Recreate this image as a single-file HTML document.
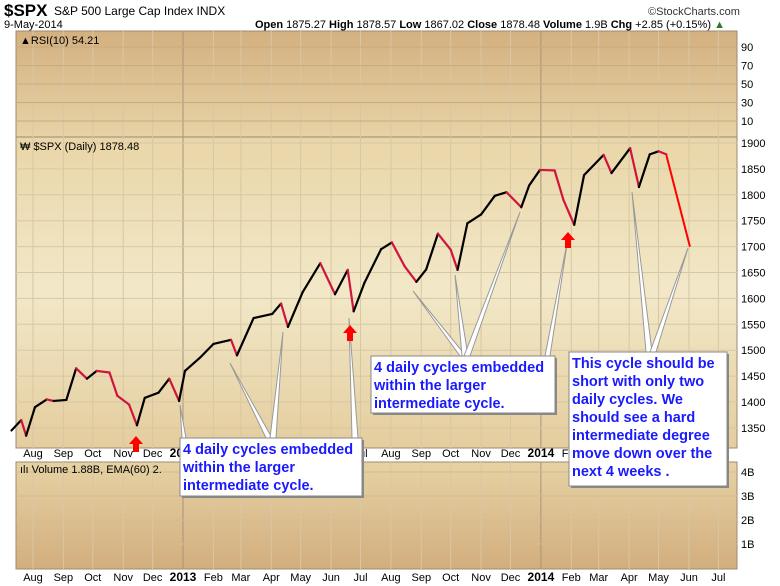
<!DOCTYPE html>
<html><head><meta charset="utf-8"><style>
body{margin:0;background:#fff;width:780px;height:586px;overflow:hidden;font-family:"Liberation Sans",sans-serif}
svg{display:block}
.t{font-family:"Liberation Sans",sans-serif}
.cb{fill:#1a1aff;font-weight:bold;font-size:14.5px}
</style></head><body>
<svg id="c" width="780" height="586">
<defs>
<linearGradient id="gr" x1="0" y1="0" x2="0" y2="1"><stop offset="0" stop-color="#d3b07f"/><stop offset="1" stop-color="#e7d3a6"/></linearGradient>
<linearGradient id="gp" x1="0" y1="0" x2="0" y2="1"><stop offset="0" stop-color="#e9d6a8"/><stop offset="0.5" stop-color="#f2e8c8"/><stop offset="1" stop-color="#e4cd9e"/></linearGradient>
<linearGradient id="gv" x1="0" y1="0" x2="0" y2="1"><stop offset="0" stop-color="#e6d2a4"/><stop offset="1" stop-color="#d2ae7e"/></linearGradient>
</defs>
<text class="t" x="4" y="16" font-size="17" font-weight="bold">$SPX</text>
<text class="t" x="54" y="15" font-size="12">S&amp;P 500 Large Cap Index  INDX</text>
<text class="t" x="648" y="15" font-size="11" fill="#333">©StockCharts.com</text>
<text class="t" x="4" y="28" font-size="11">9-May-2014</text>
<text class="t" x="255" y="28" font-size="11"><tspan font-weight="bold">Open</tspan> 1875.27 <tspan font-weight="bold">High</tspan> 1878.57 <tspan font-weight="bold">Low</tspan> 1867.02 <tspan font-weight="bold">Close</tspan> 1878.48 <tspan font-weight="bold">Volume</tspan> 1.9B <tspan font-weight="bold">Chg</tspan> +2.85 (+0.15%) <tspan fill="#2a7a2a">▲</tspan></text>
<rect x="16" y="31" width="721" height="106" fill="url(#gr)" stroke="#a08870"/>
<rect x="16" y="137" width="721" height="311" fill="url(#gp)" stroke="#a08870"/>
<rect x="16" y="462" width="721" height="107" fill="url(#gv)" stroke="#a08870"/>
<g id="grid"></g>
<text class="t" x="20" y="44" font-size="11">▲RSI(10) 54.21</text>
<text class="t" x="20" y="150" font-size="11">₩ $SPX (Daily) 1878.48</text>
<text class="t" x="20" y="473" font-size="11">ılı Volume 1.88B, EMA(60) 2.</text>
<g id="ticks"></g>
<g id="series"></g>
<g id="notes"></g>
</svg>
<script>
const months=["Aug","Sep","Oct","Nov","Dec","2013","Feb","Mar","Apr","May","Jun","Jul","Aug","Sep","Oct","Nov","Dec","2014","Feb","Mar","Apr","May","Jun","Jul"];
const monthDates=["2012-08-01","2012-09-01","2012-10-01","2012-11-01","2012-12-01","2013-01-01","2013-02-01","2013-03-01","2013-04-01","2013-05-01","2013-06-01","2013-07-01","2013-08-01","2013-09-01","2013-10-01","2013-11-01","2013-12-01","2014-01-01","2014-02-01","2014-03-01","2014-04-01","2014-05-01","2014-06-01","2014-07-01"];
const priceTicks=[1900,1850,1800,1750,1700,1650,1600,1550,1500,1450,1400,1350];
const rsiTicks=[90,70,50,30,10];
const volTicks=[4,3,2,1];
const dates=["2012-07-10","2012-07-20","2012-07-25","2012-08-03","2012-08-15","2012-08-22","2012-09-04","2012-09-14","2012-09-25","2012-10-05","2012-10-18","2012-10-26","2012-11-07","2012-11-15","2012-11-23","2012-12-07","2012-12-18","2012-12-28","2013-01-03","2013-01-18","2013-02-01","2013-02-19","2013-02-25","2013-03-14","2013-04-02","2013-04-11","2013-04-18","2013-05-03","2013-05-21","2013-06-05","2013-06-18","2013-06-24","2013-07-05","2013-07-22","2013-08-02","2013-08-15","2013-08-27","2013-09-06","2013-09-18","2013-10-01","2013-10-08","2013-10-18","2013-11-01","2013-11-15","2013-11-27","2013-12-12","2013-12-20","2013-12-31","2014-01-15","2014-01-24","2014-02-04","2014-02-14","2014-03-06","2014-03-14","2014-04-02","2014-04-11","2014-04-22","2014-05-01","2014-05-09"];
const closes=[1345,1365,1335,1390,1405,1402,1404,1465,1445,1460,1457,1412,1395,1355,1408,1418,1445,1402,1460,1485,1512,1520,1490,1562,1570,1590,1545,1612,1668,1608,1655,1575,1630,1695,1708,1662,1632,1656,1725,1694,1655,1745,1762,1798,1805,1776,1818,1848,1847,1790,1742,1838,1877,1842,1890,1815,1878,1884,1878];
const projection=[1876,1700];
const projDates=["2014-05-09","2014-06-02"];
const NS="http://www.w3.org/2000/svg";
const t0=Date.parse("2012-08-01");
function X(d){return 33+(Date.parse(d)-t0)/864e5*0.9805;}
function Y(p){return 143+(1900-p)*0.518;}
function RY(v){return 121-(v-10)*0.925;}
function VY(v){return 544-(v-1)*24;}
function mk(tag,attrs,parent){const e=document.createElementNS(NS,tag);for(const k in attrs)e.setAttribute(k,attrs[k]);parent.appendChild(e);return e;}
const grid=document.getElementById('grid'),ticks=document.getElementById('ticks'),ser=document.getElementById('series'),notes=document.getElementById('notes');
monthDates.forEach((d,i)=>{const x=X(d);const yr=months[i].length==4;
 [[31,137],[137,448],[462,569]].forEach(r=>{const l=mk('line',{x1:x,x2:x,y1:r[0],y2:r[1],stroke:yr?'#a89478':'#d8c7a4','stroke-width':1},grid);
 
 });
 [457,581].forEach(y=>{const t=mk('text',{x:x,y:y,'font-size':yr?12:11,'font-weight':yr?'bold':'normal','text-anchor':'middle',class:'t'},ticks);t.textContent=months[i];
 
 });});
priceTicks.forEach(p=>{const y=Y(p);const l=mk('line',{x1:16,x2:737,y1:y,y2:y,stroke:'#d8c7a4'},grid);
 
 
 const t=mk('text',{x:741,y:y+4,'font-size':11,class:'t'},ticks);t.textContent=p;
 
 });
rsiTicks.forEach(v=>{const y=RY(v);const l=mk('line',{x1:16,x2:737,y1:y,y2:y,stroke:'#c9ab80'},grid);
 
 
 const t=mk('text',{x:741,y:y+4,'font-size':11,class:'t'},ticks);t.textContent=v;
 
 });
volTicks.forEach(v=>{const y=VY(v);const l=mk('line',{x1:16,x2:737,y1:y,y2:y,stroke:'#d3bb92'},grid);
 
 
 const t=mk('text',{x:741,y:y+4,'font-size':11,class:'t'},ticks);t.textContent=v+'B';
 
 });
for(let i=1;i<closes.length;i++){const dn=closes[i]<closes[i-1];
 const l=mk('line',{x1:X(dates[i-1]),y1:Y(closes[i-1]),x2:X(dates[i]),y2:Y(closes[i]),stroke:dn?'#d0143c':'#000','stroke-width':2.2,'stroke-linecap':'round'},ser);
 
 }
const pl=mk('line',{x1:X(projDates[0]),y1:Y(projection[0]),x2:X(projDates[1]),y2:Y(projection[1]),stroke:'#f00','stroke-width':2},ser);


function wedge(px,py,bx1,bx2,by){const p=mk('polygon',{points:`${px},${py} ${bx1},${by} ${bx2},${by}`,fill:'#fff',stroke:'#999','stroke-width':1},notes);
 
 }
wedge(180,405,182,186,438);wedge(230,363,266,272,438);wedge(283,332,270,276,438);wedge(349,318,352,358,438);
wedge(413,291,460,466,356);wedge(455,275,462,468,356);wedge(520,212,464,470,356);wedge(568,238,545,550,356);
wedge(632,192,646,652,352);wedge(688,248,650,656,352);
function arrow(x,y){const p=mk('polygon',{points:`${x},${y} ${x+7},${y+8} ${x+3},${y+8} ${x+3},${y+16} ${x-3},${y+16} ${x-3},${y+8} ${x-7},${y+8}`,fill:'#f00'},notes);
 
 }
arrow(136,436);arrow(350,325);arrow(568,232);
function box(x,y,w,h,lines,name){const g=mk('g',{},notes);
 
 mk('rect',{x:x+2,y:y+2,width:w,height:h,fill:'#888'},g);mk('rect',{x:x,y:y,width:w,height:h,fill:'#fff',stroke:'#888'},g);
 lines.forEach((s,i)=>{const t=mk('text',{x:x+3,y:y+16+i*18,class:'t cb'},g);t.textContent=s;});}
box(180,438,182,58,["4 daily cycles embedded","within the larger","intermediate cycle."],'callout-2013');
box(371,356,184,57,["4 daily cycles embedded","within the larger","intermediate cycle."],'callout-late-2013');
box(569,352,158,134,["This cycle should be","short with only two","daily cycles. We","should see a hard","intermediate degree","move down over the","next 4 weeks ."],'callout-forecast');
</script>
</body></html>
